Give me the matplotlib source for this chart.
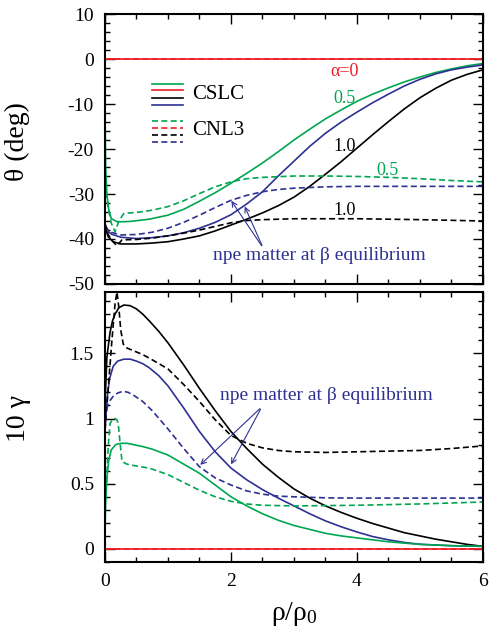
import numpy as np
import matplotlib
matplotlib.use('Agg')
import matplotlib.pyplot as plt
from matplotlib.ticker import MultipleLocator

plt.rcParams['font.family'] = ['Liberation Serif', 'DejaVu Serif']
plt.rcParams['mathtext.fontset'] = 'custom'
plt.rcParams['mathtext.rm'] = 'Liberation Serif'
plt.rcParams['mathtext.it'] = 'Liberation Serif'
plt.rcParams['axes.unicode_minus'] = False

green = '#00a651'
red = '#ed1c24'
blue = '#2e3192'

# ---- top panel: theta (deg) ----
x_red = [0, 6]
y_red = [0, 0]

x_th_g = [0, 0.01, 0.03, 0.06, 0.1, 0.2, 0.4, 0.7, 1.0, 1.25, 1.5, 1.75, 2.0, 2.25, 2.5, 2.75, 3.0,
          3.25, 3.5, 3.75, 4.0, 4.25, 4.5, 4.75, 5.0, 5.25, 5.5, 5.75, 6.0]
y_th_g = [-10, -24, -30, -33.5, -35.5, -36.2, -36.1, -35.6, -34.7, -33.4, -31.6, -29.7, -27.6, -25.4, -23.1, -20.6, -18.0,
          -15.6, -13.3, -11.3, -9.4, -7.8, -6.4, -5.1, -4.0, -3.0, -2.2, -1.5, -1.0]

x_th_b = [0, 0.05, 0.1, 0.25, 0.5, 0.75, 1.0, 1.25, 1.5, 1.75, 2.0, 2.25, 2.5, 2.75, 3.0, 3.25, 3.5,
          3.75, 4.0, 4.25, 4.5, 4.75, 5.0, 5.25, 5.5, 5.75, 6.0]
y_th_b = [-37, -38.3, -38.9, -39.6, -39.9, -39.7, -39.3, -38.6, -37.6, -36.3, -34.6, -32.2, -29.5, -26.0, -22.7, -19.4, -16.5,
          -14.0, -11.8, -9.7, -7.8, -6.0, -4.5, -3.3, -2.4, -1.8, -1.3]

x_th_k = [0, 0.05, 0.13, 0.25, 0.5, 0.75, 1.0, 1.25, 1.5, 1.75, 2.0, 2.25, 2.5, 2.75, 3.0, 3.25, 3.5,
          3.75, 4.0, 4.25, 4.5, 4.75, 5.0, 5.25, 5.5, 5.75, 6.0]
y_th_k = [-37.3, -39.5, -40.6, -41.1, -41.1, -40.9, -40.6, -40.0, -39.3, -38.2, -36.9, -35.6, -34.2, -32.6, -30.7, -28.3, -25.6,
          -22.8, -19.8, -16.8, -13.9, -11.1, -8.6, -6.5, -4.7, -3.4, -2.4]

x_th_gd = [0, 0.05, 0.1, 0.16, 0.22, 0.3, 0.5, 0.75, 1.0, 1.25, 1.5, 1.75, 2.0, 2.25, 2.5, 3.0, 3.5, 4.0, 4.5, 5.0, 5.5, 6.0]
y_th_gd = [-27.5, -33, -36.5, -38.4, -36, -34.3, -34.1, -33.6, -32.8, -31.5, -29.9, -28.4, -27.3, -26.6, -26.3, -26.0, -26.0,
           -26.1, -26.3, -26.6, -27.0, -27.3]

x_th_bd = [0, 0.05, 0.1, 0.25, 0.5, 0.75, 1.0, 1.25, 1.5, 1.75, 2.0, 2.25, 2.5, 2.75, 3.0, 3.5, 4.0, 5.0, 6.0]
y_th_bd = [-37, -38, -38.5, -39.1, -39, -38.5, -37.6, -36.3, -34.7, -33.0, -31.4, -30.3, -29.5, -29.0, -28.7, -28.4, -28.3,
           -28.3, -28.3]

x_th_kd = [0, 0.05, 0.12, 0.19, 0.27, 0.5, 0.75, 1.0, 1.25, 1.5, 1.75, 2.0, 2.25, 2.5, 3.0, 4.0, 5.0, 6.0]
y_th_kd = [-36.5, -39, -40.5, -41.5, -40.2, -40.1, -39.8, -39.3, -38.7, -38.0, -37.2, -36.4, -35.9, -35.7, -35.5, -35.5,
           -35.7, -36]

# ---- bottom panel: 10 gamma ----
x_ga_k = [0, 0.03, 0.08, 0.12, 0.16, 0.22, 0.3, 0.4, 0.5, 0.6, 0.7, 0.85, 1.0, 1.25, 1.5, 1.75, 2.0, 2.25, 2.5, 2.75, 3.0,
          3.25, 3.5, 3.75, 4.0, 4.25, 4.5, 4.75, 5.0, 5.25, 5.5, 5.75, 6.0]
y_ga_k = [1.1, 1.47, 1.66, 1.75, 1.80, 1.85, 1.87, 1.865, 1.84, 1.80, 1.75, 1.67, 1.58, 1.41, 1.23, 1.06, 0.90, 0.77, 0.65,
          0.55, 0.46, 0.39, 0.33, 0.28, 0.235, 0.195, 0.16, 0.125, 0.10, 0.075, 0.055, 0.035, 0.02]

x_ga_b = [0, 0.03, 0.07, 0.13, 0.2, 0.3, 0.4, 0.5, 0.6, 0.7, 0.85, 1.0, 1.25, 1.5, 1.75, 2.0, 2.25, 2.5, 2.75, 3.0, 3.25,
          3.5, 3.75, 4.0, 4.25, 4.5, 4.75, 5.0, 5.5, 6.0]
y_ga_b = [0.9, 1.14, 1.30, 1.40, 1.44, 1.455, 1.455, 1.44, 1.42, 1.39, 1.33, 1.25, 1.08, 0.90, 0.745, 0.62, 0.53, 0.455,
          0.39, 0.33, 0.27, 0.215, 0.17, 0.13, 0.095, 0.07, 0.05, 0.036, 0.025, 0.02]

x_ga_g = [0, 0.01, 0.03, 0.06, 0.1, 0.17, 0.25, 0.35, 0.45, 0.6, 0.75, 1.0, 1.25, 1.5, 1.75, 2.0, 2.25, 2.5, 2.75, 3.0,
          3.25, 3.5, 3.75, 4.0, 4.5, 5.0, 5.5, 6.0]
y_ga_g = [0.1, 0.35, 0.55, 0.68, 0.76, 0.80, 0.81, 0.81, 0.80, 0.785, 0.765, 0.72, 0.65, 0.58, 0.49, 0.40, 0.33, 0.27,
          0.22, 0.18, 0.15, 0.12, 0.10, 0.085, 0.055, 0.035, 0.025, 0.02]

x_ga_kd = [0, 0.05, 0.11, 0.16, 0.19, 0.22, 0.25, 0.29, 0.35, 0.45, 0.6, 0.75, 1.0, 1.25, 1.5, 1.75, 2.0, 2.25, 2.5,
           2.75, 3.0, 3.5, 4.0, 4.5, 5.0, 5.5, 6.0]
y_ga_kd = [0.91, 1.22, 1.60, 1.88, 1.97, 1.85, 1.68, 1.57, 1.54, 1.52, 1.49, 1.45, 1.38, 1.26, 1.13, 0.99, 0.87, 0.81,
           0.775, 0.755, 0.745, 0.74, 0.745, 0.75, 0.755, 0.77, 0.79]

x_ga_bd = [0, 0.05, 0.13, 0.2, 0.29, 0.37, 0.45, 0.6, 0.75, 1.0, 1.25, 1.5, 1.75, 2.0, 2.25, 2.5, 2.75, 3.0, 3.5, 4.0,
           5.0, 6.0]
y_ga_bd = [1.0, 1.12, 1.17, 1.195, 1.21, 1.20, 1.18, 1.13, 1.06, 0.92, 0.77, 0.63, 0.545, 0.49, 0.445, 0.42, 0.405, 0.40,
           0.392, 0.39, 0.39, 0.39]

x_ga_gd = [0, 0.03, 0.05, 0.08, 0.12, 0.16, 0.19, 0.21, 0.24, 0.27, 0.35, 0.45, 0.7, 1.0, 1.25, 1.5, 1.75, 2.0, 2.25,
           2.5, 3.0, 4.0, 5.0, 6.0]
y_ga_gd = [0.3, 0.55, 0.78, 0.96, 0.995, 1.0, 0.99, 0.96, 0.81, 0.67, 0.65, 0.64, 0.62, 0.57, 0.51, 0.45, 0.40, 0.365,
           0.345, 0.335, 0.33, 0.335, 0.345, 0.36]

lw = 1.2
dash = (3.6, 2.0)

fig = plt.figure(figsize=(4.99, 6.29), dpi=100)
ax1 = fig.add_axes([0.2104, 0.5485, 0.7575, 0.4292])
ax2 = fig.add_axes([0.2104, 0.1065, 0.7575, 0.4293])

# top
ax1.plot(x_th_g, y_th_g, color=green, lw=lw)
ax1.plot(x_th_b, y_th_b, color=blue, lw=lw)
ax1.plot(x_th_k, y_th_k, color='black', lw=lw)
ax1.plot(x_th_gd, y_th_gd, color=green, lw=lw, dashes=dash)
ax1.plot(x_th_bd, y_th_bd, color=blue, lw=lw, dashes=dash)
ax1.plot(x_th_kd, y_th_kd, color='black', lw=lw, dashes=dash)
ax1.plot(x_red, y_red, color=red, lw=lw, dashes=dash)
ax1.plot(x_red, y_red, color=red, lw=lw)

# handmade legend
for yy, c in zip([0.742, 0.717, 0.688, 0.662], [green, red, 'black', blue]):
    ax1.plot([0.1235, 0.2056], [yy, yy], color=c, lw=lw, transform=ax1.transAxes)
for yy, c in zip([0.602, 0.577, 0.552, 0.525], [green, red, 'black', blue]):
    ax1.plot([0.1235, 0.2056], [yy, yy], color=c, lw=lw, dashes=dash, transform=ax1.transAxes)
ax1.text(0.23, 0.703, 'CSLC', fontsize=15, va='center', transform=ax1.transAxes)
ax1.text(0.23, 0.570, 'CNL3', fontsize=15, va='center', transform=ax1.transAxes)

ax1.text(3.8, -2.8, 'α=0', color=red, fontsize=13, ha='center', va='center')
ax1.text(3.8, -8.7, '0.5', color=green, fontsize=13, ha='center', va='center')
ax1.text(3.8, -19.5, '1.0', color='black', fontsize=13, ha='center', va='center')
ax1.text(4.48, -24.7, '0.5', color=green, fontsize=13, ha='center', va='center')
ax1.text(3.8, -33.6, '1.0', color='black', fontsize=13, ha='center', va='center')

ax1.text(3.41, -43.6, 'npe matter at β equilibrium', color=blue, fontsize=14, ha='center', va='center')
arr = dict(arrowstyle='->', color=blue, lw=0.8, mutation_scale=9)
ax1.annotate('', xy=(1.98, -31.0), xytext=(2.51, -42.0), arrowprops=arr)
ax1.annotate('', xy=(2.2, -32.2), xytext=(2.51, -42.0), arrowprops=arr)

ax1.set_xlim(0, 6)
ax1.set_ylim(-50, 10)
ax1.set_yticks([10, 0, -10, -20, -30, -40, -50])
ax1.yaxis.set_minor_locator(MultipleLocator(2))
ax1.set_ylabel('θ (deg)', fontsize=20)
ax1.yaxis.set_label_coords(-0.198, 0.526)

# bottom
ax2.plot(x_ga_k, y_ga_k, color='black', lw=lw)
ax2.plot(x_ga_b, y_ga_b, color=blue, lw=lw)
ax2.plot(x_ga_g, y_ga_g, color=green, lw=lw)
ax2.plot(x_ga_kd, y_ga_kd, color='black', lw=lw, dashes=dash)
ax2.plot(x_ga_bd, y_ga_bd, color=blue, lw=lw, dashes=dash)
ax2.plot(x_ga_gd, y_ga_gd, color=green, lw=lw, dashes=dash)
ax2.plot(x_red, y_red, color=red, lw=lw, dashes=dash)
ax2.plot(x_red, y_red, color=red, lw=lw)

ax2.text(3.51, 1.18, 'npe matter at β equilibrium', color=blue, fontsize=14, ha='center', va='center')
ax2.annotate('', xy=(1.98, 0.63), xytext=(2.49, 1.09), arrowprops=arr)
ax2.annotate('', xy=(1.48, 0.63), xytext=(2.49, 1.09), arrowprops=arr)

ax2.set_xlim(0, 6)
ax2.set_ylim(-0.1, 1.97)
ax2.set_yticks([0, 0.5, 1, 1.5])
ax2.set_yticklabels(['0', '0.5', '1', '1.5'])
ax2.yaxis.set_minor_locator(MultipleLocator(0.1))
ax2.set_ylabel('10 γ', fontsize=20)
ax2.yaxis.set_label_coords(-0.196, 0.53)
ax2.set_xlabel(r'$\mathrm{\rho/\rho_0}$', fontsize=20)
ax2.xaxis.set_label_coords(0.5, -0.14)

for ax in (ax1, ax2):
    ax.set_xticks([0, 2, 4, 6])
    ax.xaxis.set_minor_locator(MultipleLocator(0.5))
    ax.tick_params(which='both', direction='in', top=True, right=True, width=1, labelsize=14)
    ax.tick_params(which='major', length=7, pad=8)
    ax.tick_params(which='minor', length=3.5)
    for s in ax.spines.values():
        s.set_linewidth(1.5)
ax1.tick_params(labelbottom=False)

fig.savefig('out.png', dpi=100)
